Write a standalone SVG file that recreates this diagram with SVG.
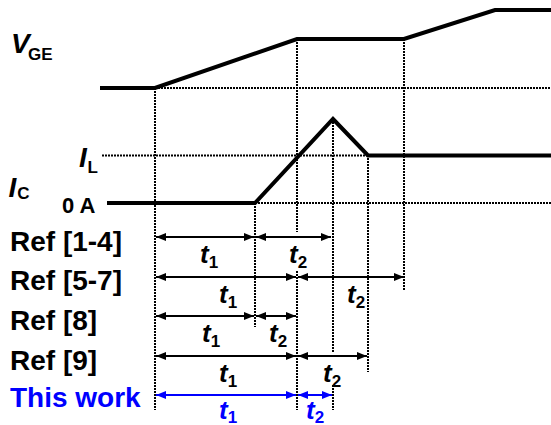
<svg xmlns="http://www.w3.org/2000/svg" width="551" height="425" viewBox="0 0 551 425">
<style>
text{font-family:"Liberation Sans",Arial,sans-serif;font-weight:bold;fill:#000}
.blue{fill:#0000FF}
.wave{fill:none;stroke:#000;stroke-width:4}
.dot{fill:none;stroke:#000;stroke-width:2;stroke-dasharray:2 1}
.arr{fill:none;stroke:#000;stroke-width:2;marker-start:url(#ah);marker-end:url(#ah)}
.arrb{fill:none;stroke:#0000FF;stroke-width:2;marker-start:url(#ahb);marker-end:url(#ahb)}
.big{font-size:28px}
.sub{font-size:17px}
.t{font-size:26px}
</style>
<defs>
<marker id="ah" markerUnits="userSpaceOnUse" markerWidth="10" markerHeight="8" refX="10" refY="4" orient="auto-start-reverse"><path d="M0,0 L10,4 L0,8 z" fill="#000"/></marker>
<marker id="ahb" markerUnits="userSpaceOnUse" markerWidth="10" markerHeight="8" refX="10" refY="4" orient="auto-start-reverse"><path d="M0,0 L10,4 L0,8 z" fill="#0000FF"/></marker>
</defs>

<g id="guides">
<line class="dot" x1="155" y1="88" x2="551" y2="88"/>
<line class="dot" x1="102" y1="155.5" x2="368" y2="155.5"/>
<line class="dot" x1="255" y1="203" x2="551" y2="203"/>
<line class="dot" x1="155" y1="88" x2="155" y2="410"/>
<line class="dot" x1="255" y1="203" x2="255" y2="327"/>
<line class="dot" x1="297" y1="39" x2="297" y2="232"/>
<line class="dot" x1="297" y1="271" x2="297" y2="410"/>
<line class="dot" x1="333" y1="119" x2="333" y2="352"/>
<line class="dot" x1="333" y1="385" x2="333" y2="410"/>
<line class="dot" x1="368" y1="155" x2="368" y2="372"/>
<line class="dot" x1="404" y1="39" x2="404" y2="290"/>
</g>

<g id="vge">
<polyline class="wave" points="100,88 155,88 297,39 404,39 495,10 551,10"/>
<text class="big" x="11" y="53" font-style="italic">V</text>
<text class="sub" x="28" y="59.5">GE</text>
</g>

<g id="ic">
<polyline class="wave" points="107,203 255,203 333,119 368,155.5 551,155.5"/>
<text class="big" x="79" y="166.7" font-style="italic">I</text>
<text class="sub" x="87.5" y="173.3">L</text>
<text class="big" x="8.5" y="196.7" font-style="italic">I</text>
<text class="sub" x="17.3" y="198.5">C</text>
<text x="62" y="212.7" font-size="22">0 A</text>
</g>

<g id="connectors">
<line class="arr" x1="156" y1="237" x2="254" y2="237"/>
<line class="arr" x1="256" y1="237" x2="331" y2="237"/>
<line class="arr" x1="156" y1="277" x2="296" y2="277"/>
<line class="arr" x1="298" y1="277" x2="404" y2="277"/>
<line class="arr" x1="156" y1="316" x2="254" y2="316"/>
<line class="arr" x1="256" y1="316" x2="296" y2="316"/>
<line class="arr" x1="156" y1="356" x2="296" y2="356"/>
<line class="arr" x1="298" y1="356" x2="367" y2="356"/>
<line class="arrb" x1="156" y1="395" x2="296" y2="395"/>
<line class="arrb" x1="298" y1="395" x2="332" y2="395"/>
</g>

<g id="row-ref1-4">
<text class="big" x="10" y="251">Ref [1-4]</text>
<text class="t" x="200" y="263"><tspan font-style="italic">t</tspan><tspan class="sub" dy="5">1</tspan></text>
<text class="t" x="289" y="263"><tspan font-style="italic">t</tspan><tspan class="sub" dy="5">2</tspan></text>
</g>
<g id="row-ref5-7">
<text class="big" x="10" y="290">Ref [5-7]</text>
<text class="t" x="219" y="303"><tspan font-style="italic">t</tspan><tspan class="sub" dy="5">1</tspan></text>
<text class="t" x="347" y="303"><tspan font-style="italic">t</tspan><tspan class="sub" dy="5">2</tspan></text>
</g>
<g id="row-ref8">
<text class="big" x="10" y="330">Ref [8]</text>
<text class="t" x="202" y="342"><tspan font-style="italic">t</tspan><tspan class="sub" dy="5">1</tspan></text>
<text class="t" x="269" y="342"><tspan font-style="italic">t</tspan><tspan class="sub" dy="5">2</tspan></text>
</g>
<g id="row-ref9">
<text class="big" x="10" y="370">Ref [9]</text>
<text class="t" x="219" y="382"><tspan font-style="italic">t</tspan><tspan class="sub" dy="5">1</tspan></text>
<text class="t" x="323" y="382"><tspan font-style="italic">t</tspan><tspan class="sub" dy="5">2</tspan></text>
</g>
<g id="row-this-work">
<text class="big blue" x="10" y="407">This work</text>
<text class="t blue" x="219" y="419"><tspan font-style="italic">t</tspan><tspan class="sub" dy="4">1</tspan></text>
<text class="t blue" x="306" y="419"><tspan font-style="italic">t</tspan><tspan class="sub" dy="4">2</tspan></text>
</g>
</svg>
